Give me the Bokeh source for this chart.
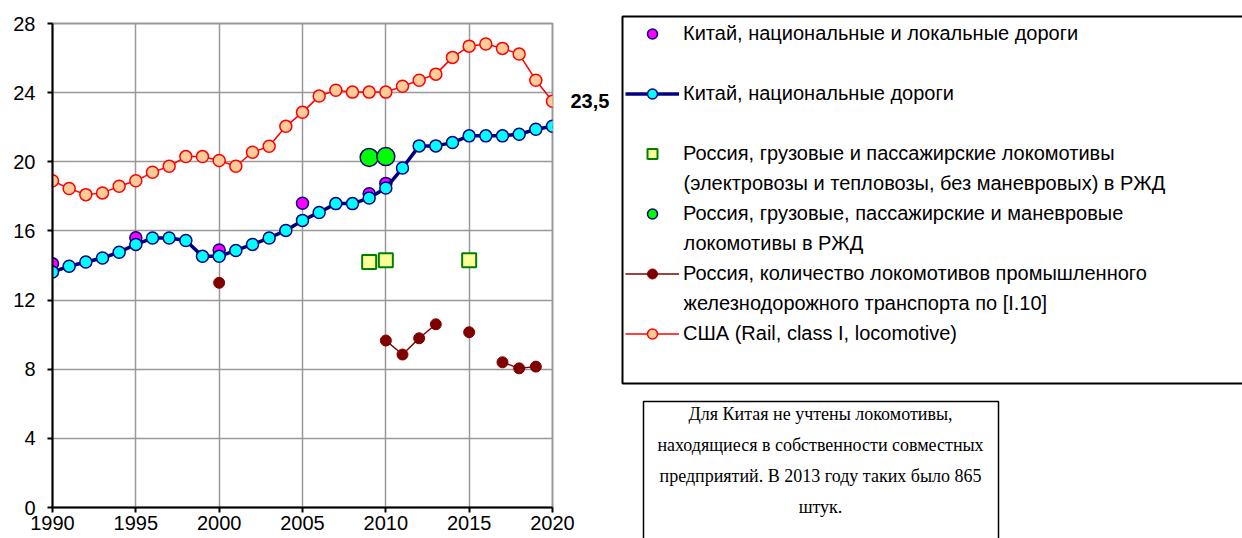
from bokeh.plotting import figure
from bokeh.layouts import row
from bokeh.models import (Range1d, FixedTicker, Legend, LegendItem, Label)
from bokeh.embed import file_html
from bokeh.resources import INLINE

# ---------------- data ----------------
years = list(range(1990, 2021))
usa = [18.9, 18.45, 18.1, 18.2, 18.58, 18.9, 19.39, 19.74, 20.3, 20.3,
       20.07, 19.74, 20.55, 20.9, 22.05, 22.86, 23.8, 24.14, 24.03, 24.03,
       24.03, 24.37, 24.72, 25.07, 26.04, 26.69, 26.81, 26.56, 26.23, 24.72,
       23.5]
china_nat = [13.62, 13.96, 14.2, 14.43, 14.77, 15.22, 15.59, 15.59, 15.45, 14.53,
             14.53, 14.87, 15.22, 15.59, 16.03, 16.61, 17.07, 17.58, 17.58, 17.9,
             18.48, 19.64, 20.92, 20.92, 21.11, 21.5, 21.5, 21.5, 21.59, 21.88,
             22.06]
china_local_years = [1990, 1995, 2000, 2005, 2009, 2010]
china_local = [14.1, 15.6, 14.9, 17.6, 18.15, 18.75]
rzd_fp_years = [2009, 2010, 2015]
rzd_fp = [14.2, 14.3, 14.3]
rzd_all_years = [2009, 2010]
rzd_all = [20.25, 20.3]
ind_years = [2000, 2010, 2011, 2012, 2013, 2015, 2017, 2018, 2019]
ind_vals = [13.0, 9.66, 8.85, 9.79, 10.6, 10.14, 8.4, 8.05, 8.15]
usa_last_label = "23,5"

x_ticks = [1990, 1995, 2000, 2005, 2010, 2015, 2020]
y_ticks = [0, 4, 8, 12, 16, 20, 24, 28]

legend_labels = [
    "Китай, национальные и локальные дороги",
    "Китай, национальные дороги",
    "Россия, грузовые и пассажирские локомотивы",
    "Россия, грузовые, пассажирские и маневровые",
    "Россия, количество локомотивов промышленного",
    "США (Rail, class I, locomotive)",
]
legend_second_lines = {
    2: "(электровозы и тепловозы, без маневровых) в РЖД",
    3: "локомотивы в РЖД",
    4: "железнодорожного транспорта по [I.10]",
}
note_lines = [
    "Для Китая не учтены локомотивы,",
    "находящиеся в собственности совместных",
    "предприятий. В 2013 году таких было 865",
    "штук.",
]

# industrial series: break the line where years are not consecutive
ind_lx, ind_ly = [], []
for i, (yr, v) in enumerate(zip(ind_years, ind_vals)):
    if i > 0 and yr - ind_years[i - 1] > 1:
        ind_lx.append(float("nan"))
        ind_ly.append(float("nan"))
    ind_lx.append(yr)
    ind_ly.append(v)

# ---------------- styles ----------------
ST_LOCAL = dict(marker="circle", fill_color="#FF00FF", line_color="#000080", line_width=1.5)
ST_CN_LINE = dict(line_color="#000080", line_width=3.5)
ST_CN_PTS = dict(marker="circle", fill_color="#00FFFF", line_color="#000080", line_width=1.5)
ST_SQ = dict(marker="square", fill_color="#FFFF99", line_color="#008000", line_width=2)
ST_GREEN = dict(marker="circle", fill_color="#00FF00", line_color="#000080", line_width=1.5)
ST_IND_LINE = dict(line_color="#800000", line_width=1.5)
ST_IND_PTS = dict(marker="circle", fill_color="#800000", line_color="#800000")
ST_US_LINE = dict(line_color="#FF0000", line_width=1.5)
ST_US_PTS = dict(marker="circle", fill_color="#FFCC99", line_color="#FF0000", line_width=1.5)

# ---------------- chart figure ----------------
TOTAL_W, TOTAL_H = 1242, 538
LW = 615
BL, BT, BB = 52, 23, 31
BR = LW - BL - 500
p = figure(width=LW, height=TOTAL_H, output_backend="svg", toolbar_location=None,
           x_range=Range1d(1990, 2020), y_range=Range1d(0, 28),
           min_border_left=BL, min_border_right=BR, min_border_top=BT,
           min_border_bottom=BB)
p.frame_align = False
p.background_fill_color = "white"
p.border_fill_color = "white"
p.outline_line_color = "#999999"
p.outline_line_width = 2

p.xaxis.ticker = FixedTicker(ticks=x_ticks)
p.yaxis.ticker = FixedTicker(ticks=y_ticks)
for ax in (p.xaxis[0], p.yaxis[0]):
    ax.axis_line_color = "black"
    ax.axis_line_width = 2
    ax.major_tick_line_color = "black"
    ax.major_tick_line_width = 2
    ax.major_tick_in = 0
    ax.major_tick_out = 5
    ax.minor_tick_line_color = None
    ax.major_label_text_font = "Liberation Sans"
    ax.major_label_text_font_size = "20px"
    ax.major_label_text_color = "black"
p.yaxis.major_label_standoff = 12
p.xaxis.major_label_standoff = 3
p.grid.grid_line_color = "#999999"
p.grid.grid_line_width = 1.5

r_local = p.scatter(china_local_years, china_local, size=12, **ST_LOCAL)
r_cn_line = p.line(years, china_nat, **ST_CN_LINE)
r_cn_pts = p.scatter(years, china_nat, size=12, **ST_CN_PTS)
r_sq = p.scatter(rzd_fp_years, rzd_fp, size=14, **ST_SQ)
r_green = p.scatter(rzd_all_years, rzd_all, size=18, **ST_GREEN)
r_ind_line = p.line(ind_lx, ind_ly, **ST_IND_LINE)
r_ind_pts = p.scatter(ind_years, ind_vals, size=11, **ST_IND_PTS)
r_us_line = p.line(years, usa, **ST_US_LINE)
r_us_pts = p.scatter(years, usa, size=12, **ST_US_PTS)

# value label for the last US point, in the right border panel (not clipped)
p.add_layout(Label(x=18, x_units="screen", y=usa[-1], y_units="data",
                   text=usa_last_label, text_font="Liberation Sans",
                   text_font_size="20px", text_font_style="bold",
                   text_baseline="middle", text_align="left",
                   text_color="black"), "right")

# ---------------- legend / note figure (data units = page pixels) ----------------
RW = TOTAL_W - LW
q = figure(width=RW, height=TOTAL_H, output_backend="svg", toolbar_location=None,
           x_range=Range1d(LW, TOTAL_W), y_range=Range1d(TOTAL_H, 0),
           x_axis_location=None, y_axis_location=None,
           min_border_left=0, min_border_right=0, min_border_top=0,
           min_border_bottom=0)
q.frame_align = False
q.outline_line_color = None
q.xgrid.visible = False
q.ygrid.visible = False
q.background_fill_color = "white"
q.border_fill_color = "white"

# frames of the legend block and of the note (they run past the page edges)
q.quad(left=[622], right=[1300], top=[16], bottom=[383],
       fill_color=None, line_color="black", line_width=2)
q.quad(left=[643], right=[998], top=[401], bottom=[620],
       fill_color=None, line_color="black", line_width=1.5)

# legend keys carrying the same styles as the chart series (no visible points)
nan = float("nan")
e = dict(x=[nan], y=[nan])
k_local = q.scatter(**e, **ST_LOCAL)
k_cn_line = q.line(**e, **ST_CN_LINE)
k_cn_pts = q.scatter(**e, **ST_CN_PTS)
k_sq = q.scatter(**e, **ST_SQ)
k_green = q.scatter(**e, **ST_GREEN)
k_ind_line = q.line(**e, **ST_IND_LINE)
k_ind_pts = q.scatter(**e, **ST_IND_PTS)
k_us_line = q.line(**e, **ST_US_LINE)
k_us_pts = q.scatter(**e, **ST_US_PTS)

item_h, item_pitch = 25, 60
first_center = 33
leg_top = first_center - item_h / 2
leg_h = 6 * item_h + 5 * (item_pitch - item_h)
LEG_FONT = "20px"
GLYPH_LEFT, GLYPH_W = 625, 54
legend = Legend(
    items=[
        LegendItem(label=legend_labels[0], renderers=[k_local]),
        LegendItem(label=legend_labels[1], renderers=[k_cn_line, k_cn_pts]),
        LegendItem(label=legend_labels[2], renderers=[k_sq]),
        LegendItem(label=legend_labels[3], renderers=[k_green]),
        LegendItem(label=legend_labels[4], renderers=[k_ind_line, k_ind_pts]),
        LegendItem(label=legend_labels[5], renderers=[k_us_line, k_us_pts]),
    ],
    location=(GLYPH_LEFT - LW, TOTAL_H - (leg_top + leg_h)),
    padding=0, margin=0, spacing=item_pitch - item_h,
    glyph_width=GLYPH_W, glyph_height=item_h, label_height=item_h,
    label_standoff=4,
    border_line_alpha=0, background_fill_alpha=0,
    label_text_font="Liberation Sans", label_text_font_size=LEG_FONT,
    label_text_color="black",
)
q.add_layout(legend)

for idx, txt in legend_second_lines.items():
    yc = first_center + idx * item_pitch + 29
    q.add_layout(Label(x=GLYPH_LEFT + GLYPH_W + 4, y=yc, text=txt,
                       text_font="Liberation Sans",
                       text_font_size=LEG_FONT, text_baseline="middle",
                       text_align="left", text_color="black"))

for i, txt in enumerate(note_lines):
    q.add_layout(Label(x=820, y=413 + i * 31.3, text=txt,
                       text_font="Liberation Serif", text_font_size="18px",
                       text_baseline="middle", text_align="center",
                       text_color="black"))

layout = row(p, q, spacing=0)
open("out.html", "w").write(file_html(layout, INLINE))
